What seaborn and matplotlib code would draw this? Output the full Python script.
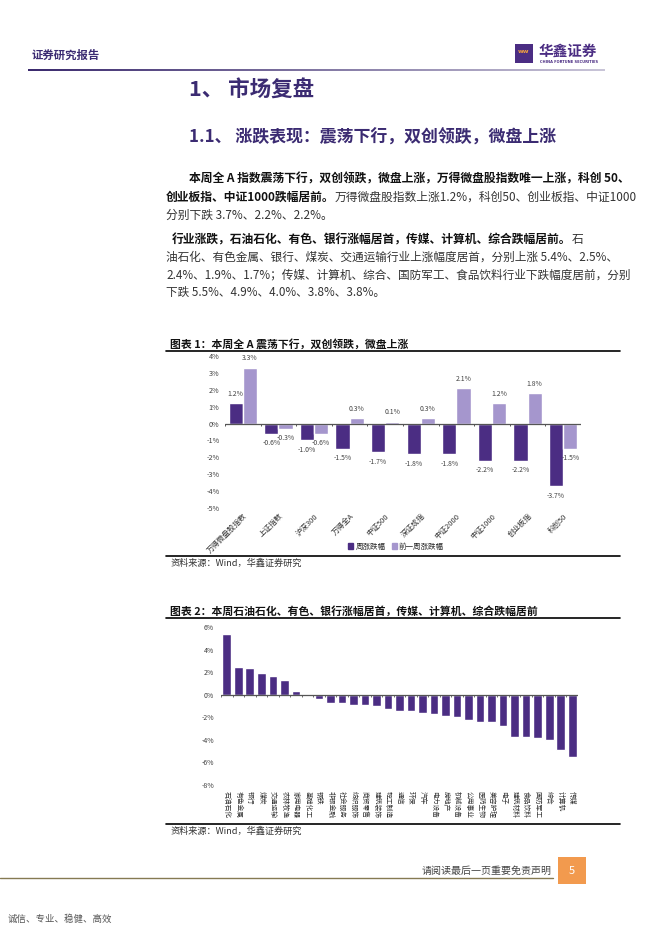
import numpy as np
import pandas as pd
import matplotlib
matplotlib.use('Agg')
import matplotlib.pyplot as plt
import seaborn as sns
from matplotlib.patches import Rectangle, Patch
from matplotlib.lines import Line2D
from matplotlib.colors import LinearSegmentedColormap
from matplotlib.ticker import FuncFormatter

# chart 1: major indices, weekly change (%)
index_names = ['万得微盘股指数', '上证指数', '沪深300', '万得全A', '中证500',
               '深证成指', '中证2000', '中证1000', '创业板指', '科创50']
week_chg = [1.2, -0.6, -1.0, -1.5, -1.7, -1.8, -1.8, -2.2, -2.2, -3.7]
prev_week_chg = [3.3, -0.3, -0.6, 0.3, 0.1, 0.3, 2.1, 1.2, 1.8, -1.5]
series_names = ['周涨跌幅', '前一周涨跌幅']

# chart 2: SW industries, weekly change (%)
industry_names = ['石油石化', '有色金属', '银行', '煤炭', '交通运输', '农林牧渔', '家用电器',
                  '基础化工', '钢铁', '非银金融', '社会服务', '纺织服饰', '商贸零售', '建筑装饰',
                  '轻工制造', '通信', '环保', '汽车', '电力设备', '房地产', '机械设备', '公用事业',
                  '医药生物', '美容护理', '电子', '建筑材料', '食品饮料', '国防军工', '综合',
                  '计算机', '传媒']
industry_chg = [5.4, 2.5, 2.4, 1.9, 1.7, 1.3, 0.3, -0.15, -0.4, -0.75, -0.75, -0.95, -0.95,
                -1.0, -1.3, -1.45, -1.45, -1.6, -1.75, -1.85, -2.0, -2.25, -2.4, -2.4, -2.8,
                -3.75, -3.75, -3.8, -4.0, -4.9, -5.5]

W, H = 662, 936
DARK = '#4b2d83'
LIGHT = '#a596cd'
HEAD = '#3b2b72'


def px(x, y):
    return x / W, 1 - y / H


def text_line(fig, renderer, x, y, parts, size=8.5):
    # parts: list of (text, bold)
    for txt, bold in parts:
        t = fig.text(*px(x, y), txt, fontsize=size, va='center', ha='left',
                     fontweight='bold' if bold else 'normal',
                     color='#111111' if bold else '#333333')
        x += t.get_window_extent(renderer).width


def pct(v, pos):
    return f'{v:.0f}%'


def main():
    sns.set_theme(style='white')
    plt.rcParams['font.family'] = ['Noto Sans CJK SC', 'DejaVu Sans']
    plt.rcParams['axes.unicode_minus'] = False

    fig = plt.figure(figsize=(W / 100, H / 100), dpi=100)
    renderer = fig.canvas.get_renderer()

    # page header
    fig.text(*px(32, 55), '证券研究报告', fontsize=8.2, fontweight='bold', color=HEAD, va='center')
    gax = fig.add_axes([28 / W, 1 - 71.5 / H, 577 / W, 2.5 / H])
    gax.imshow(np.linspace(0, 1, 256)[None, :], aspect='auto',
               cmap=LinearSegmentedColormap.from_list('hdr', ['#3b2a6e', '#c9c5d8']))
    gax.axis('off')
    fig.add_artist(Rectangle(px(515, 63), 18 / W, 19 / H, transform=fig.transFigure,
                             color=DARK, lw=0))
    fig.text(*px(524, 54), 'ʷʷ', fontsize=7, color='#f0a040', ha='center', va='center',
             fontweight='bold', family='DejaVu Sans')
    fig.text(*px(539, 51), '华鑫证券', fontsize=10.5, color=DARK, va='center', fontweight='bold')
    fig.text(*px(540, 62), 'CHINA FORTUNE SECURITIES', fontsize=2.6, color=DARK, va='center',
             family='DejaVu Sans', fontweight='bold')

    # headings
    fig.text(*px(189, 90), '1、 市场复盘', fontsize=15.5, fontweight='bold', color=HEAD, va='center')
    fig.text(*px(189, 138), '1.1、 涨跌表现：震荡下行，双创领跌，微盘上涨', fontsize=12.2,
             fontweight='bold', color=HEAD, va='center')

    # body text
    text_line(fig, renderer, 189, 179,
              [('本周全 A 指数震荡下行，双创领跌，微盘上涨，万得微盘股指数唯一上涨，科创 50、', True)])
    text_line(fig, renderer, 166, 197,
              [('创业板指、中证1000跌幅居前。', True),
               ('万得微盘股指数上涨1.2%，科创50、创业板指、中证1000', False)])
    text_line(fig, renderer, 166, 215, [('分别下跌 3.7%、2.2%、2.2%。', False)])
    text_line(fig, renderer, 172, 240,
              [('行业涨跌，石油石化、有色、银行涨幅居首，传媒、计算机、综合跌幅居前。', True),
               ('石', False)])
    text_line(fig, renderer, 166, 257.5,
              [('油石化、有色金属、银行、煤炭、交通运输行业上涨幅度居首，分别上涨 5.4%、2.5%、', False)],
              size=8.4)
    text_line(fig, renderer, 166, 275,
              [('2.4%、1.9%、1.7%；传媒、计算机、综合、国防军工、食品饮料行业下跌幅度居前，分别', False)],
              size=8.4)
    text_line(fig, renderer, 166, 292.5, [('下跌 5.5%、4.9%、4.0%、3.8%、3.8%。', False)], size=8.4)

    # chart 1 frame
    fig.text(*px(170, 344), '图表 1：本周全 A 震荡下行，双创领跌，微盘上涨', fontsize=7.8,
             fontweight='bold', color='#111111', va='center')
    for y in (350.5, 556):
        fig.add_artist(Line2D([166 / W, 620 / W], [1 - y / H] * 2, color='black', lw=1.2))
    fig.text(*px(171, 563.5), '资料来源：Wind，华鑫证券研究', fontsize=6.6, color='#333333', va='center')

    df1 = pd.DataFrame({
        '指数': index_names * 2,
        '涨跌幅': week_chg + prev_week_chg,
        '系列': [series_names[0]] * len(index_names) + [series_names[1]] * len(index_names),
    })
    ax1 = fig.add_axes([225 / W, 1 - 508 / H, 356 / W, 152 / H])
    sns.barplot(data=df1, x='指数', y='涨跌幅', hue='系列', order=index_names,
                hue_order=series_names, palette=[DARK, LIGHT], saturation=1, width=0.8,
                legend=False, ax=ax1)
    n1 = len(index_names)
    ax1.set_xlim(-0.5, n1 - 0.5)
    ax1.set_ylim(-5, 4)
    ax1.set_yticks(range(-5, 5))
    ax1.yaxis.set_major_formatter(FuncFormatter(pct))
    ax1.axhline(0, color='#555555', lw=0.9, zorder=3)
    ax1.vlines(np.arange(n1 + 1) - 0.5, -0.12, 0, color='#555555', lw=0.7)
    for c in ax1.containers:
        ax1.bar_label(c, fmt='%.1f%%', padding=4, fontsize=4.9, color='#404040')
    ax1.set_xlabel('')
    ax1.set_ylabel('')
    ax1.tick_params(axis='y', length=0, pad=4, labelsize=5.2, labelcolor='#404040')
    ax1.tick_params(axis='x', length=0, pad=3, labelsize=5.4, labelcolor='#333333')
    plt.setp(ax1.get_xticklabels(), rotation=45, ha='right', va='top', rotation_mode='anchor')
    sns.despine(ax=ax1, left=True, bottom=True)
    ax1.legend(handles=[Patch(color=DARK), Patch(color=LIGHT)], labels=series_names,
               loc='center', bbox_to_anchor=px(396, 546.5), bbox_transform=fig.transFigure,
               ncol=2, frameon=False, fontsize=5.4, handlelength=0.7, handleheight=0.7,
               handletextpad=0.3, columnspacing=0.8)

    # chart 2 frame
    fig.text(*px(170, 611), '图表 2：本周石油石化、有色、银行涨幅居首，传媒、计算机、综合跌幅居前',
             fontsize=7.8, fontweight='bold', color='#111111', va='center')
    for y in (618, 823.5):
        fig.add_artist(Line2D([166 / W, 620 / W], [1 - y / H] * 2, color='black', lw=1.2))
    fig.text(*px(171, 831), '资料来源：Wind，华鑫证券研究', fontsize=6.6, color='#333333', va='center')

    ax2 = fig.add_axes([221 / W, 1 - 785 / H, 357 / W, 158 / H])
    sns.barplot(x=industry_names, y=industry_chg, color=DARK, saturation=1, width=0.75, ax=ax2)
    n2 = len(industry_names)
    ax2.set_xlim(-0.5, n2 - 0.5)
    ax2.set_ylim(-8, 6)
    ax2.set_yticks(range(-8, 7, 2))
    ax2.yaxis.set_major_formatter(FuncFormatter(pct))
    ax2.axhline(0, color='#555555', lw=0.9, zorder=3)
    ax2.vlines(np.arange(n2 + 1) - 0.5, -0.18, 0, color='#555555', lw=0.6)
    ax2.tick_params(axis='y', length=0, pad=5, labelsize=5.0, labelcolor='#404040')
    ax2.tick_params(axis='x', length=0, pad=4, labelsize=4.9, labelcolor='#333333')
    plt.setp(ax2.get_xticklabels(), rotation=-90, ha='center', va='top')
    sns.despine(ax=ax2, left=True, bottom=True)

    # page footer
    fig.add_artist(Line2D([0, 553 / W], [1 - 878 / H] * 2, color='#857a52', lw=1.0))
    fig.text(*px(552, 870.5), '请阅读最后一页重要免责声明', fontsize=7.2, color='#444444',
             ha='right', va='center')
    fig.add_artist(Rectangle(px(558, 884), 28 / W, 27 / H, transform=fig.transFigure,
                             color='#f29a4e', lw=0))
    fig.text(*px(572, 870.5), '5', fontsize=8, color='white', ha='center', va='center')
    fig.text(*px(8, 919), '诚信、专业、稳健、高效', fontsize=6.8, color='#555555', va='center')

    fig.savefig('out.png', dpi=100)


if __name__ == "__main__":
    main()
